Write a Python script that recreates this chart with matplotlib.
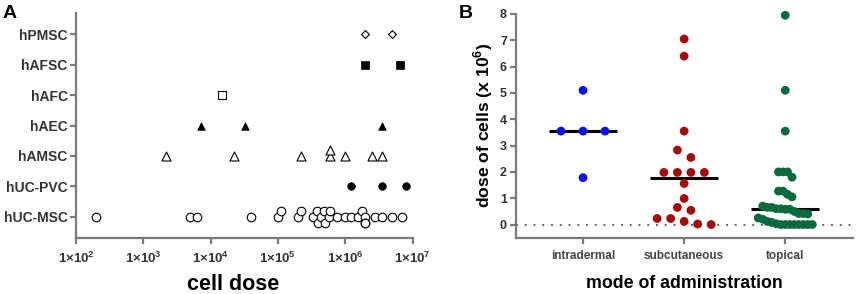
import numpy as np
import matplotlib
matplotlib.use('Agg')
import matplotlib.pyplot as plt
from matplotlib.ticker import FixedLocator, NullLocator

plt.rcParams['font.family'] = ['Liberation Sans', 'DejaVu Sans']
plt.rcParams['mathtext.fontset'] = 'custom'
plt.rcParams['mathtext.rm'] = 'Liberation Sans:bold'
plt.rcParams['mathtext.bf'] = 'Liberation Sans:bold'

# ---- panel A: cell dose for each cell type (log scale)
cell_types = ['hUC-MSC', 'hUC-PVC', 'hAMSC', 'hAEC', 'hAFC', 'hAFSC', 'hPMSC']
dose_huc_msc = [200, 4900, 6300, 4.0e4, 1.0e5, 1.1e5, 2.0e5, 2.2e5,
                3.3e5, 3.8e5, 3.9e5, 4.3e5, 4.8e5, 5.0e5, 5.7e5, 6.0e5, 7.6e5,
                9.8e5, 1.24e6, 1.57e6, 1.77e6, 1.95e6, 1.95e6, 1.95e6,
                2.8e6, 3.5e6, 5.0e6, 7.0e6]
dose_huc_pvc = [1.24e6, 3.5e6, 7.9e6]
dose_hamsc = [2.2e3, 2.2e4, 2.2e5, 5.9e5, 5.9e5, 1.0e6, 2.5e6, 3.5e6]
dose_haec = [7.2e3, 3.3e4, 3.5e6]
dose_hafc = [1.5e4]
dose_hafsc = [2.0e6, 6.5e6]
dose_hpmsc = [2.0e6, 5.0e6]
doses = [dose_huc_msc, dose_huc_pvc, dose_hamsc, dose_haec, dose_hafc, dose_hafsc, dose_hpmsc]
dose_ticks = [1e2, 1e3, 1e4, 1e5, 1e6, 1e7]
dose_ticklabels = ['1×10$^{%d}$' % k for k in range(2, 8)]

# ---- panel B: dose of cells (x 10^6) by mode of administration
modes = ['intradermal', 'subcutaneous', 'topical']
intradermal = [5.1, 3.55, 3.55, 3.55, 1.78]
subcutaneous = [7.05, 6.4, 3.55, 2.83, 2.55, 1.98, 1.98, 1.98, 1.98, 1.56,
                0.99, 0.65, 0.54, 0.23, 0.23, 0.12, 0.02, 0.0]
topical = [7.95, 5.1, 3.55, 2.0, 2.0, 2.0, 1.8, 1.27, 1.27, 1.15, 1.05,
           0.7, 0.65, 0.65, 0.6, 0.6, 0.58, 0.58, 0.5, 0.42, 0.42, 0.4,
           0.25, 0.2, 0.12, 0.08, 0.03, 0, 0, 0, 0, 0, 0, 0, 0]
mode_values = [intradermal, subcutaneous, topical]
mode_colors = ['#1010f5', '#a30c0c', '#0c6b3e']

spine_c = '#7a7a7a'
text_c = '#333333'


def swarm_vertical(xpx, d=6.0, step=3.0):
    # small up/down shifts so that points on one row do not sit on top of each other
    off = np.zeros(len(xpx))
    placed = []
    for i in np.argsort(xpx):
        o = 0.0
        for k in [0, 1, -1, 2, -2]:
            o = k * step
            if all((xpx[i] - a) ** 2 + (o - b) ** 2 >= d * d for a, b in placed):
                break
        off[i] = o
        placed.append((xpx[i], o))
    return off


def column_rows(ypx, row_h=8.0, width=54.0, max_step=22.0):
    # points with nearly the same value are put side by side in one row
    rows = []
    for i in np.argsort(ypx):
        if rows and ypx[i] - ypx[rows[-1][0]] <= row_h:
            rows[-1].append(i)
        else:
            rows.append([i])
    nmax = max(len(r) for r in rows)
    step = max_step if nmax < 2 else min(max_step, width / (nmax - 1))
    off = np.zeros(len(ypx))
    for r in rows:
        r = sorted(r, key=lambda i: -ypx[i])
        for j, i in enumerate(r):
            off[i] = (j - (len(r) - 1) / 2.0) * step
    return off


def style_axes(ax):
    for s in ['top', 'right']:
        ax.spines[s].set_visible(False)
    for s in ['left', 'bottom']:
        ax.spines[s].set_color(spine_c)
        ax.spines[s].set_linewidth(1.6)
    ax.tick_params(color=spine_c, width=1.6, length=4.5, labelcolor=text_c)


fig = plt.figure(figsize=(8.58, 2.94), dpi=100)

# ----------------- A
axA = fig.add_axes([76 / 858, 1 - 238 / 294, (412.5 - 76) / 858, (238 - 13) / 294])
axA.set_xscale('log')
axA.set_xlim(1e2, 1e7)
axA.set_ylim(-0.7, 6.7)
style_axes(axA)
axA.xaxis.set_major_locator(FixedLocator(dose_ticks))
axA.xaxis.set_minor_locator(NullLocator())
axA.set_xticklabels(dose_ticklabels, fontsize=9.5, fontweight='bold')
axA.set_yticks(range(len(cell_types)))
axA.set_yticklabels(cell_types, fontsize=10, fontweight='bold')
axA.tick_params(axis='y', pad=1.5)
axA.tick_params(axis='x', pad=5)

markers = [
    dict(marker='o', s=38, facecolors='white', edgecolors='black', linewidths=0.8),
    dict(marker='o', s=30, facecolors='black', edgecolors='black', linewidths=0.5),
    dict(marker='^', s=42, facecolors='white', edgecolors='black', linewidths=0.8),
    dict(marker='^', s=30, facecolors='black', edgecolors='black', linewidths=0.5),
    dict(marker='s', s=32, facecolors='white', edgecolors='black', linewidths=0.8),
    dict(marker='s', s=28, facecolors='black', edgecolors='black', linewidths=0.5),
    dict(marker='D', s=16, facecolors='white', edgecolors='black', linewidths=0.8),
]
tA = axA.transData
for row, vals in enumerate(doses):
    vals = np.array(vals, dtype=float)
    pts = tA.transform(np.column_stack([vals, np.full(len(vals), row)]))
    pts[:, 1] += swarm_vertical(pts[:, 0])
    data = tA.inverted().transform(pts)
    axA.scatter(data[:, 0], data[:, 1], zorder=3, clip_on=False, **markers[row])

fig.text(233 / 858, 1 - 290 / 294, 'cell dose', fontsize=15.5, fontweight='bold',
         ha='center', va='baseline', color='black')
fig.text(3 / 858, 1 - 18 / 294, 'A', fontsize=14, fontweight='bold', ha='left', va='baseline')

# ----------------- B
axB = fig.add_axes([516 / 858, 1 - 237.7 / 294, (853 - 516) / 858, (237.7 - 14) / 294])
axB.set_xlim(-0.663, 2.67)
axB.set_ylim(-0.5, 8)
style_axes(axB)
axB.set_yticks(range(0, 9))
axB.set_yticklabels([str(v) for v in range(0, 9)], fontsize=9, fontweight='bold')
axB.set_xticks(range(len(modes)))
axB.set_xticklabels(modes, fontsize=8.5, fontweight='bold', color='#444444')
axB.tick_params(axis='y', pad=2)
axB.tick_params(axis='x', pad=4)
axB.axhline(0, color='#666666', lw=1.4, ls=(0, (1, 3.5)), zorder=1)

tB = axB.transData
for k, vals in enumerate(mode_values):
    vals = np.array(vals, dtype=float)
    pts = tB.transform(np.column_stack([np.full(len(vals), k), vals]))
    pts[:, 0] += column_rows(pts[:, 1])
    data = tB.inverted().transform(pts)
    axB.scatter(data[:, 0], data[:, 1], s=40, color=mode_colors[k], edgecolors='none',
                zorder=3, clip_on=False)
    med = np.median(vals)
    axB.hlines(med, k - 0.335, k + 0.335, color='black', lw=2.2, zorder=2)

fig.text(684.5 / 858, 1 - 288.5 / 294, 'mode of administration', fontsize=12.8,
         fontweight='bold', ha='center', va='baseline', color='black')
fig.text(483 / 858, 1 - 125 / 294, 'dose of cells (x 10$^{6}$)', fontsize=12.6,
         fontweight='bold', rotation=90, ha='center', va='center', color='black')
fig.text(459 / 858, 1 - 18 / 294, 'B', fontsize=14, fontweight='bold', ha='left', va='baseline')

fig.savefig('out.png', dpi=100)
